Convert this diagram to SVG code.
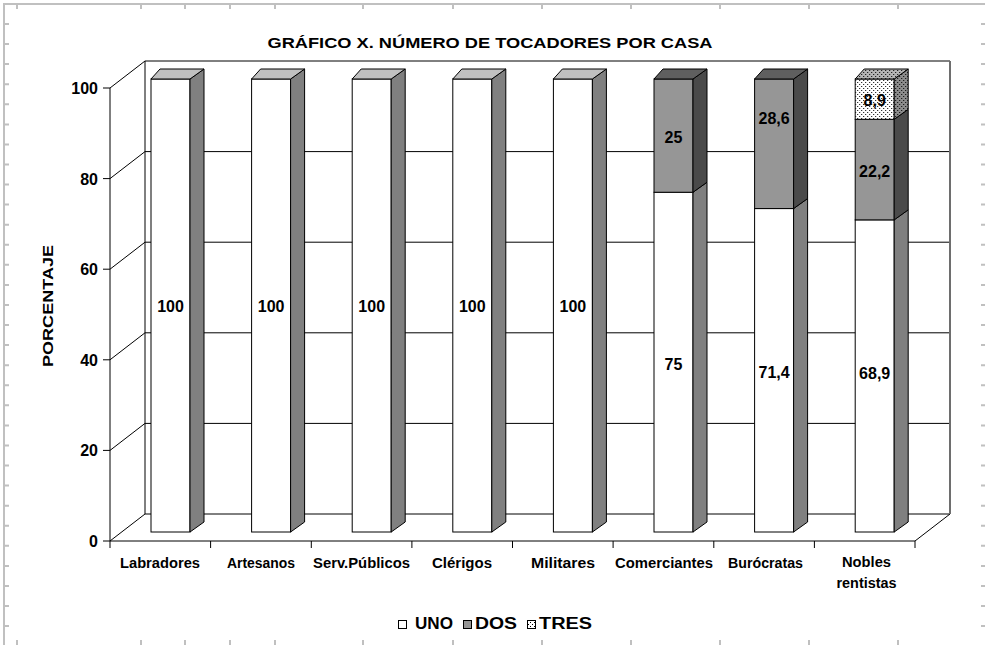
<svg xmlns="http://www.w3.org/2000/svg" width="985" height="645" viewBox="0 0 985 645">
<style>
text{font-family:"Liberation Sans",Arial,sans-serif;font-weight:bold;fill:#000}
.rl{stroke:#c0c0c0;stroke-width:2;fill:none}
.ax{stroke:#000;stroke-width:1;fill:none}
.uf{fill:#fff;stroke:#000;stroke-width:1}
.us{fill:#808080;stroke:#000;stroke-width:1}
.ut{fill:#c0c0c0;stroke:#000;stroke-width:1}
.df{fill:#969696;stroke:#000;stroke-width:1}
.ds{fill:#4a4a4a;stroke:#000;stroke-width:1}
.dt{fill:#5f5f5f;stroke:#000;stroke-width:1}
.tf{fill:url(#dotW);stroke:#000;stroke-width:1}
.ts{fill:url(#dotD);stroke:#000;stroke-width:1}
.tt{fill:url(#dotG);stroke:#000;stroke-width:1}
.lbl{font-size:16px;text-anchor:middle}
.tk{font-size:16px;text-anchor:end}
.cat{font-size:14px;text-anchor:middle}
</style>
<defs>
<pattern id="dotW" width="4" height="4" patternUnits="userSpaceOnUse"><rect width="4" height="4" fill="#fff"/><rect x="0" y="0" width="1" height="1" fill="#000"/><rect x="2" y="2" width="1" height="1" fill="#000"/></pattern>
<pattern id="dotG" width="4" height="4" patternUnits="userSpaceOnUse"><rect width="4" height="4" fill="#b4b4b4"/><rect x="0" y="0" width="1" height="1" fill="#000"/><rect x="2" y="2" width="1" height="1" fill="#000"/></pattern>
<pattern id="dotD" width="4" height="4" patternUnits="userSpaceOnUse"><rect width="4" height="4" fill="#8c8c8c"/><rect x="0" y="0" width="1" height="1" fill="#000"/><rect x="2" y="2" width="1" height="1" fill="#000"/></pattern>
</defs>
<rect width="985" height="645" fill="#fff"/>
<g id="ruler" class="rl">
<path d="M4,4H985M4,3V645"/>
<path d="M17,5V9M141,5V9M185,5V9M230,5V9M275,5V9M363,5V9M453,5V9M542,5V9M631,5V9M720,5V9M809,5V9M898,5V9"/>
<path d="M17,640V645M141,640V645M185,640V645M230,640V645M275,640V645M363,640V645M453,640V645M542,640V645M631,640V645M720,640V645M809,640V645M898,640V645"/>
<path d="M5,24H9M5,44.1H9M5,64.1H9M5,84.2H9M5,104.3H9M5,124.4H9M5,144.4H9M5,164.5H9M5,184.6H9M5,204.6H9M5,224.7H9M5,244.8H9M5,264.8H9M5,284.9H9M5,305H9M5,325.1H9M5,345.1H9M5,365.2H9M5,385.3H9M5,405.3H9M5,425.4H9M5,445.5H9M5,465.5H9M5,485.6H9M5,505.7H9M5,525.8H9M5,545.8H9M5,565.9H9M5,586H9M5,606H9M5,626.1H9"/>
<path d="M981,24H985M981,44.1H985M981,64.1H985M981,84.2H985M981,104.3H985M981,124.4H985M981,144.4H985M981,164.5H985M981,184.6H985M981,204.6H985M981,224.7H985M981,244.8H985M981,264.8H985M981,284.9H985M981,305H985M981,325.1H985M981,345.1H985M981,365.2H985M981,385.3H985M981,405.3H985M981,425.4H985M981,445.5H985M981,465.5H985M981,485.6H985M981,505.7H985M981,525.8H985M981,545.8H985M981,565.9H985M981,586H985M981,606H985M981,626.1H985"/>
</g>
<text id="title" x="490" y="48" font-size="15.5" text-anchor="middle" textLength="445" lengthAdjust="spacingAndGlyphs">GRÁFICO X. NÚMERO DE TOCADORES POR CASA</text>
<text id="ytitle" transform="translate(53,306) rotate(-90)" font-size="15.5" text-anchor="middle" textLength="122" lengthAdjust="spacingAndGlyphs">PORCENTAJE</text>
<g id="connectors">
<g id="walls" class="ax">
<path d="M145,61H950M145,151.6H950M145,242.2H950M145,332.8H950M145,423.4H950M145,514H950"/>
<path d="M145,61V514"/>
<path d="M110,541L145,514M110,450.4L145,423.4M110,359.8L145,332.8M110,269.2L145,242.2M110,178.6L145,151.6M110,88L145,61"/>
<path d="M110,541H915L950,514"/>
</g>
<path d="M950,61V514" stroke="#6e6e6e" stroke-width="2" fill="none"/>
<g id="yaxis" class="ax">
<path d="M110,88V541"/>
<path d="M103,541H110M103,450.4H110M103,359.8H110M103,269.2H110M103,178.6H110M103,88H110"/>
</g>
<g id="xaxis" class="ax">
<path d="M110,541V548M210.6,541V548M311.3,541V548M411.9,541V548M512.5,541V548M613.1,541V548M713.8,541V548M814.4,541V548M915,541V548"/>
</g>
</g>
<g id="ticklabels">
<text class="tk" x="98" y="547">0</text>
<text class="tk" x="98" y="456.4">20</text>
<text class="tk" x="98" y="365.8">40</text>
<text class="tk" x="98" y="275.2">60</text>
<text class="tk" x="98" y="184.6">80</text>
<text class="tk" x="98" y="94">100</text>
</g>
<g id="bar-labradores" transform="translate(151,0)">
<rect class="uf" x="0" y="79" width="39" height="453"/>
<polygon class="us" points="39,79 53,69 53,522 39,532"/>
<polygon class="ut" points="0,79 9,69 53,69 39,79"/>
<text class="lbl" x="19.5" y="312">100</text>
</g>
<g id="bar-artesanos" transform="translate(251.6,0)">
<rect class="uf" x="0" y="79" width="39" height="453"/>
<polygon class="us" points="39,79 53,69 53,522 39,532"/>
<polygon class="ut" points="0,79 9,69 53,69 39,79"/>
<text class="lbl" x="19.5" y="312">100</text>
</g>
<g id="bar-serv" transform="translate(352.2,0)">
<rect class="uf" x="0" y="79" width="39" height="453"/>
<polygon class="us" points="39,79 53,69 53,522 39,532"/>
<polygon class="ut" points="0,79 9,69 53,69 39,79"/>
<text class="lbl" x="19.5" y="312">100</text>
</g>
<g id="bar-clerigos" transform="translate(452.8,0)">
<rect class="uf" x="0" y="79" width="39" height="453"/>
<polygon class="us" points="39,79 53,69 53,522 39,532"/>
<polygon class="ut" points="0,79 9,69 53,69 39,79"/>
<text class="lbl" x="19.5" y="312">100</text>
</g>
<g id="bar-militares" transform="translate(553.4,0)">
<rect class="uf" x="0" y="79" width="39" height="453"/>
<polygon class="us" points="39,79 53,69 53,522 39,532"/>
<polygon class="ut" points="0,79 9,69 53,69 39,79"/>
<text class="lbl" x="19.5" y="312">100</text>
</g>
<g id="bar-comerciantes" transform="translate(654,0)">
<rect class="uf" x="0" y="192.25" width="39" height="339.75"/>
<polygon class="us" points="39,192.25 53,182.25 53,522 39,532"/>
<rect class="df" x="0" y="79" width="39" height="113.25"/>
<polygon class="ds" points="39,79 53,69 53,182.25 39,192.25"/>
<polygon class="dt" points="0,79 9,69 53,69 39,79"/>
<text class="lbl" x="19.5" y="370">75</text>
<text class="lbl" x="19.5" y="143">25</text>
</g>
<g id="bar-burocratas" transform="translate(754.6,0)">
<rect class="uf" x="0" y="208.56" width="39" height="323.44"/>
<polygon class="us" points="39,208.56 53,198.56 53,522 39,532"/>
<rect class="df" x="0" y="79" width="39" height="129.56"/>
<polygon class="ds" points="39,79 53,69 53,198.56 39,208.56"/>
<polygon class="dt" points="0,79 9,69 53,69 39,79"/>
<text class="lbl" x="19.5" y="378">71,4</text>
<text class="lbl" x="19.5" y="124">28,6</text>
</g>
<g id="bar-nobles" transform="translate(855.2,0)">
<rect class="uf" x="0" y="219.88" width="39" height="312.12"/>
<polygon class="us" points="39,219.88 53,209.88 53,522 39,532"/>
<rect class="df" x="0" y="119.32" width="39" height="100.56"/>
<polygon class="ds" points="39,119.32 53,109.32 53,209.88 39,219.88"/>
<rect class="tf" x="0" y="79" width="39" height="40.32"/>
<polygon class="ts" points="39,79 53,69 53,109.32 39,119.32"/>
<polygon class="tt" points="0,79 9,69 53,69 39,79"/>
<text class="lbl" x="19.5" y="379">68,9</text>
<text class="lbl" x="19.5" y="177">22,2</text>
<text class="lbl" x="19.5" y="106">8,9</text>
</g>
<g id="categories">
<text class="cat" x="160" y="568" textLength="80" lengthAdjust="spacingAndGlyphs">Labradores</text>
<text class="cat" x="261" y="568" textLength="68" lengthAdjust="spacingAndGlyphs">Artesanos</text>
<text class="cat" x="361.5" y="568" textLength="97" lengthAdjust="spacingAndGlyphs">Serv.Públicos</text>
<text class="cat" x="462" y="568" textLength="60" lengthAdjust="spacingAndGlyphs">Clérigos</text>
<text class="cat" x="563" y="568" textLength="64" lengthAdjust="spacingAndGlyphs">Militares</text>
<text class="cat" x="664" y="568" textLength="98" lengthAdjust="spacingAndGlyphs">Comerciantes</text>
<text class="cat" x="765.5" y="568" textLength="75" lengthAdjust="spacingAndGlyphs">Burócratas</text>
<text class="cat" x="866.5" y="567" textLength="49" lengthAdjust="spacingAndGlyphs">Nobles</text>
<text class="cat" x="866.5" y="588" textLength="60" lengthAdjust="spacingAndGlyphs">rentistas</text>
</g>
<g id="legend">
<rect class="uf" x="398.5" y="620.5" width="8" height="8"/>
<text x="415" y="629" font-size="16" textLength="38" lengthAdjust="spacingAndGlyphs">UNO</text>
<rect class="df" x="463.5" y="620.5" width="8" height="8"/>
<text x="475" y="629" font-size="16" textLength="42" lengthAdjust="spacingAndGlyphs">DOS</text>
<rect class="tf" x="527.5" y="620.5" width="8" height="8"/>
<text x="539" y="629" font-size="16" textLength="53" lengthAdjust="spacingAndGlyphs">TRES</text>
</g>
</svg>
